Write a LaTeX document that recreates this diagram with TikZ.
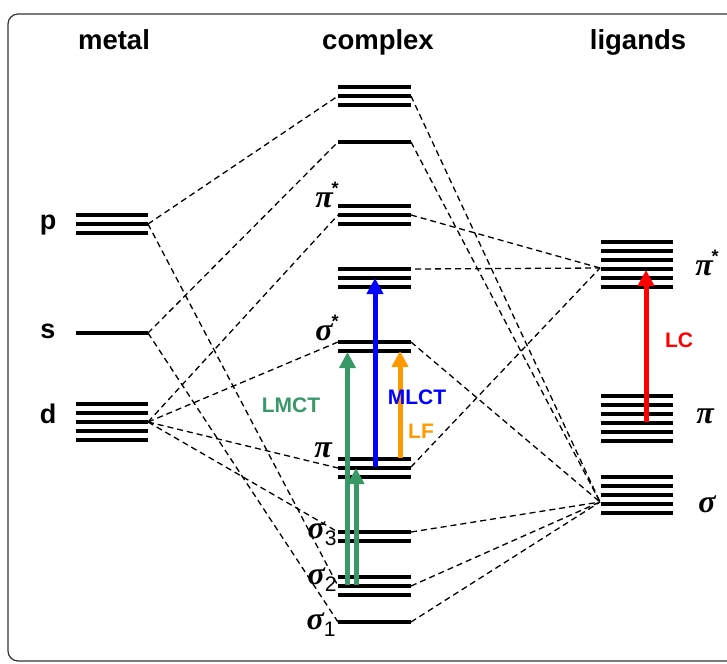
\documentclass[tikz,border=0pt]{standalone}
\usepackage{fontspec}
\setmainfont{Liberation Sans}
\newfontfamily\grk{Liberation Serif}
\usetikzlibrary{arrows.meta}
\definecolor{lmctgreen}{RGB}{56,152,104}
\definecolor{lforange}{RGB}{255,153,0}
\newcommand{\gsup}[1]{{\grk\bfseries\itshape #1}\kern-1pt\raisebox{13pt}{\fontsize{18}{18}\selectfont\bfseries *}}
\newcommand{\gsub}[2]{{\grk\bfseries\itshape #1}\raisebox{-7pt}{\fontsize{21}{21}\selectfont #2}}
\begin{document}
\begin{tikzpicture}[x=1pt,y=-1pt,
  bar/.style={line width=4.6pt},
  conn/.style={line width=1.3pt, dash pattern=on 6pt off 4pt},
  hdr/.style={font=\fontsize{27.5}{30}\selectfont\bfseries, anchor=base, inner sep=0pt},
  lvl/.style={font=\fontsize{27}{28}\selectfont\bfseries, anchor=base, inner sep=0pt},
  grl/.style={font=\fontsize{32}{34}\selectfont, anchor=base, inner sep=0pt},
  trans/.style={line width=5pt, -{Triangle[width=16pt,length=16pt]}},
  tlab/.style={font=\fontsize{21}{24}\selectfont\bfseries, inner sep=0pt}
]
\useasboundingbox (0,0) rectangle (727,663);
\draw[rounded corners=10pt, line width=1.2pt, black!80] (8,14) rectangle (745,661);

% headers
\node[hdr] (hmetal) at (114,50) {metal};
\node[hdr] (hcomplex) at (378,50) {complex};
\node[hdr] (hligands) at (638,50) {ligands};

% metal labels
\node[lvl] (lp) at (48,229) {p};
\node[lvl] (ls) at (48,338) {s};
\node[lvl] (ld) at (48,423) {d};

% connection points
\coordinate (Mp) at (148,224);
\coordinate (Ms) at (148,333);
\coordinate (Md) at (148,422);
\coordinate (CLa) at (338,96);
\coordinate (CLb) at (338,142);
\coordinate (CLc) at (338,215);
\coordinate (CLe) at (338,342);
\coordinate (CLf) at (338,468);
\coordinate (CLg) at (338,532);
\coordinate (CLh) at (338,586);
\coordinate (CLi) at (338,622);
\coordinate (CRa) at (411,96);
\coordinate (CRb) at (411,142);
\coordinate (CRc) at (411,215);
\coordinate (CRd) at (415,269);
\coordinate (CRe) at (411,342);
\coordinate (CRf) at (411,467);
\coordinate (CRg) at (411,532);
\coordinate (CRh) at (411,586);
\coordinate (CRi) at (411,622);
\coordinate (Lpis) at (600,268);
\coordinate (Lsig) at (600,502);

% dashed correlation lines
\draw[conn] (Mp) -- (CLa);
\draw[conn] (Mp) -- (CLh);
\draw[conn] (Ms) -- (CLb);
\draw[conn] (Ms) -- (CLi);
\draw[conn] (Md) -- (CLc);
\draw[conn] (Md) -- (CLe);
\draw[conn] (Md) -- (CLf);
\draw[conn] (Md) -- (CLg);
\draw[conn] (CRa) -- (Lsig);
\draw[conn] (CRb) -- (Lsig);
\draw[conn] (CRc) -- (Lpis);
\draw[conn] (CRd) -- (Lpis);
\draw[conn] (CRe) -- (Lsig);
\draw[conn] (CRf) -- (Lpis);
\draw[conn] (CRg) -- (Lsig);
\draw[conn] (CRh) -- (Lsig);
\draw[conn] (CRi) -- (Lsig);

% metal levels
\foreach \y in {215,224,233} \draw[bar] (76,\y) -- (148,\y);
\draw[bar] (76,333) -- (148,333);
\foreach \y in {404,413,422,431,440} \draw[bar] (76,\y) -- (148,\y);

% complex levels
\foreach \y in {87,96,105,142,206,215,224,269,278,287,342,351,459,468,477,532,541,577,586,595,622}
  \draw[bar] (338,\y) -- (411,\y);

% ligand levels
\foreach \y in {242,251,260,269,278,287,396,405,414,423,432,441,477,486,495,504,513}
  \draw[bar] (601,\y) -- (673,\y);

% greek labels
\node[grl] (cpis) at (327,207) {\gsup{π}};
\node[grl] (csigs) at (327,340) {\gsup{σ}};
\node[grl] (cpi) at (323,457) {{\grk\bfseries\itshape π}};
\node[grl] (csig3) at (322,538) {\gsub{σ}{3}};
\node[grl] (csig2) at (322,584) {\gsub{σ}{2}};
\node[grl] (csig1) at (321,629) {\gsub{σ}{1}};
\node[grl] (lpis) at (707,275) {\gsup{π}};
\node[grl] (lpi) at (705,423) {{\grk\bfseries\itshape π}};
\node[grl] (lsig) at (707,512) {{\grk\bfseries\itshape σ}};

% transitions
\coordinate (g1a) at (347.5,585); \coordinate (g1b) at (347.5,352);
\coordinate (g2a) at (356,585); \coordinate (g2b) at (356,468);
\coordinate (ba) at (375,467); \coordinate (bb) at (375,278);
\coordinate (oa) at (400,458); \coordinate (ob) at (400,351);
\coordinate (ra) at (646,422); \coordinate (rb) at (646,270);
\draw[trans, lmctgreen] (g1a) -- (g1b);
\draw[trans, lmctgreen] (g2a) -- (g2b);
\draw[trans, blue] (ba) -- (bb);
\draw[trans, lforange] (oa) -- (ob);
\draw[trans, red] (ra) -- (rb);

\node[tlab, text=lmctgreen] (tlmct) at (291,405) {LMCT};
\node[tlab, text=blue] (tmlct) at (417,397) {MLCT};
\node[tlab, text=lforange] (tlf) at (421,431) {LF};
\node[tlab, text=red] (tlc) at (679,340) {LC};
\end{tikzpicture}
\end{document}
